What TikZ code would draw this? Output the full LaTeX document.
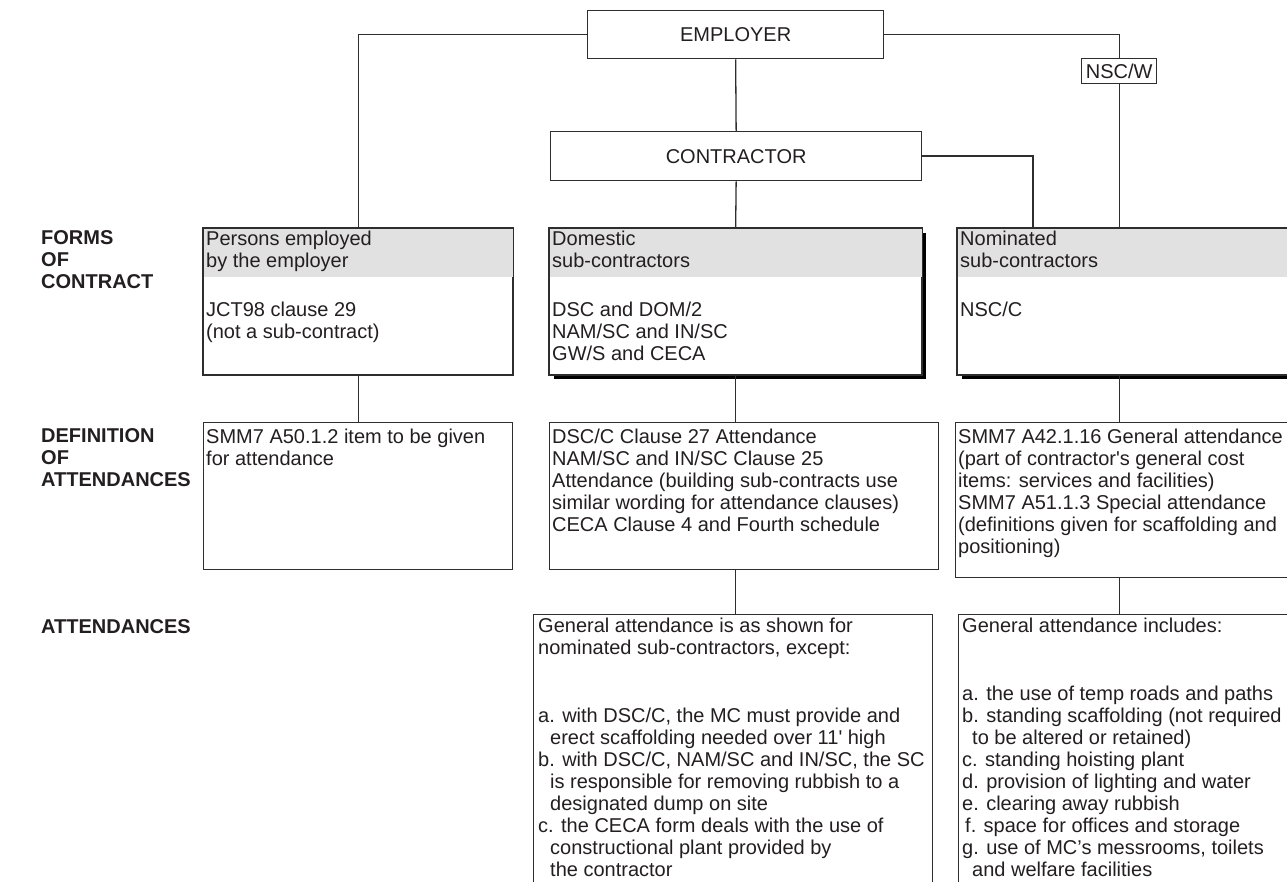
\documentclass[tikz,border=0pt]{standalone}
\usepackage{fontspec}
\setmainfont{Liberation Sans}
\definecolor{lc}{HTML}{2E2E2E}
\definecolor{tc}{HTML}{231F20}
\definecolor{gband}{HTML}{E1E1E1}
\newcommand\myfs{\fontsize{20}{22}\selectfont}
\tikzset{
  ln/.style={draw=lc, line width=1.3pt},
  box/.style={rectangle, draw=lc, line width=1.3pt, fill=white, inner sep=0pt, anchor=north west, font=\myfs, text=tc},
  shadowbox/.style={fill=black},
  txt/.style={anchor=north west, inner sep=0pt, align=left, font=\myfs, text=tc, execute at begin node=\strut},
  lab/.style={txt, font=\myfs\bfseries},
}
\begin{document}
\begin{tikzpicture}[x=1pt,y=-1pt]
\path[use as bounding box] (0,0) rectangle (1287,882);
\clip (0,0) rectangle (1287,882);

% ---- top level
\node[box, minimum width=296, minimum height=48] (emp) at (587,10) {EMPLOYER};
\node[box, minimum width=75, minimum height=25] (nsc) at (1081,58) {NSC/W};
\node[box, minimum width=371, minimum height=49] (con) at (550,131) {CONTRACTOR};

% ---- forms of contract
\fill[shadowbox] (554,233) rectangle (926,379);
\fill[shadowbox] (962,233) rectangle (1300,379);
\node[box, minimum width=309, minimum height=146] (pers) at (203,228) {};
\node[box, minimum width=372, minimum height=146] (dom) at (549,228) {};
\node[box, minimum width=400, minimum height=146] (nom) at (957,228) {};
\foreach \b in {pers,dom,nom}{
  \fill[gband] (\b.north west) rectangle ([yshift=-49pt]\b.east |- \b.north);
  \draw[ln] (\b.north west) rectangle (\b.south east);
}

% ---- definitions
\node[box, minimum width=309, minimum height=147] (persDef) at (203,422) {};
\node[box, minimum width=389, minimum height=147] (domDef) at (549,422) {};
\node[box, minimum width=400, minimum height=155] (nomDef) at (955,422) {};

% ---- attendances
\node[box, minimum width=399, minimum height=300] (domAtt) at (533,614) {};
\node[box, minimum width=400, minimum height=300] (nomAtt) at (958,614) {};

% ---- connectors
\coordinate (conIn) at ([xshift=76pt]nom.north west);
\draw[ln] (emp.west) -| (pers.north);
\draw[ln] (emp.east) -| (nsc.north);
\draw[ln] (nsc.south) -- (nsc.south |- nom.north);
\draw[ln] (emp.south) -- (con.north);
\draw[ln] (con.east) -| (conIn);
\draw[ln] (con.south) -- (dom.north);
\draw[ln] (pers.south) -- (persDef.north);
\draw[ln] (dom.south) -- (dom.south |- domDef.north);
\draw[ln] (dom.south |- domDef.south) -- (dom.south |- domAtt.north);
\draw[ln] (nsc.south |- nom.south) -- (nsc.south |- nomDef.north);
\draw[ln] (nsc.south |- nomDef.south) -- (nsc.south |- nomAtt.north);

% ---- row labels
\node[lab] (labA) at (41,230.6) {FORMS\\OF\\CONTRACT};
\node[lab] (labB) at (41,428.6) {DEFINITION\\OF\\ATTENDANCES};
\node[lab] (labC) at (41,617.6) {ATTENDANCES};

% ---- texts: forms
\node[txt] (persT) at (206,230.6) {Persons employed\\by the employer\\[27pt]JCT98 clause 29\\(not a sub-contract)};
\node[txt] (domT) at (552,230.6) {Domestic\\sub-contractors\\[27pt]DSC and DOM/2\\NAM/SC and IN/SC\\GW/S and CECA};
\node[txt] (nomT) at (960,230.6) {Nominated\\sub-contractors\\[27pt]NSC/C};

% ---- texts: definitions
\node[txt] (persDefT) at (206,428.6) {SMM7 A50.1.2 item to be given\\for attendance};
\node[txt] (domDefT) at (552,428.6) {DSC/C Clause 27 Attendance\\NAM/SC and IN/SC Clause 25\\Attendance (building sub-contracts use\\similar wording for attendance clauses)\\CECA Clause 4 and Fourth schedule};
\node[txt] (nomDefT) at (958,428.6) {SMM7 A42.1.16 General attendance\\(part of contractor\textquotesingle s general cost\\items: services and facilities)\\SMM7 A51.1.3 Special attendance\\(definitions given for scaffolding and\\positioning)};

% ---- texts: attendances
\node[txt] (domAttT) at (538,617.6) {General attendance is as shown for\\nominated sub-contractors, except:\\[46pt]a. with DSC/C, the MC must provide and\\\hspace*{12pt}erect scaffolding needed over 11\textquotesingle{} high\\b. with DSC/C, NAM/SC and IN/SC, the SC\\\hspace*{12pt}is responsible for removing rubbish to a\\\hspace*{12pt}designated dump on site\\c. the CECA form deals with the use of\\\hspace*{12pt}constructional plant provided by\\\hspace*{12pt}the contractor};
\node[txt] (nomAttT) at (962,617.6) {General attendance includes:\\[46pt]a. the use of temp roads and paths\\b. standing scaffolding (not required\\\hspace*{10pt}to be altered or retained)\\c. standing hoisting plant\\d. provision of lighting and water\\e. clearing away rubbish\\\hspace*{3pt}f. space for offices and storage\\g. use of MC’s messrooms, toilets\\\hspace*{10pt}and welfare facilities};
\end{tikzpicture}
\end{document}
